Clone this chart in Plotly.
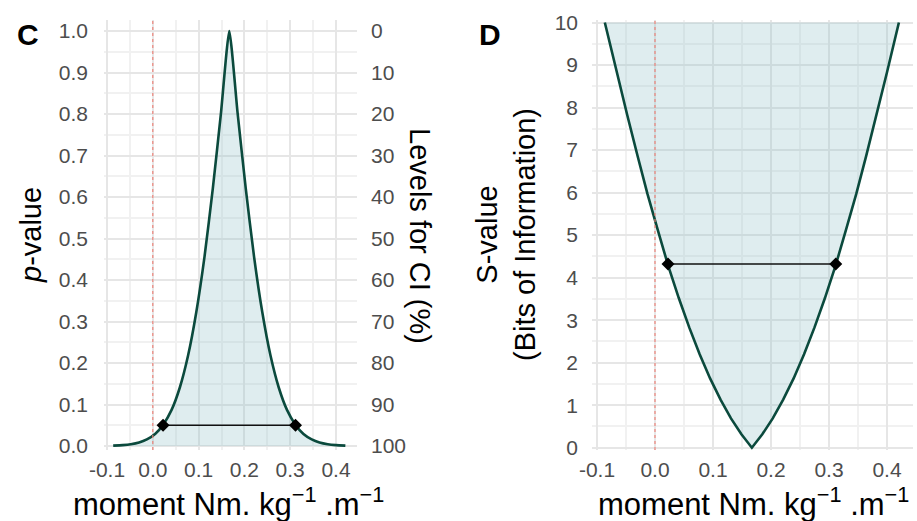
import plotly.graph_objects as go

# ---- data ----
moment = [-0.0865, -0.066, -0.048, -0.030, -0.013, 0.005, 0.023, 0.041, 0.059, 0.077,
          0.095, 0.113, 0.131, 0.149, 0.167, 0.185, 0.203, 0.221, 0.239, 0.257,
          0.275, 0.293, 0.311, 0.329, 0.347, 0.364, 0.382, 0.400, 0.4205]
p_value = [0.00098, 0.0022, 0.0044, 0.0086, 0.016, 0.029, 0.052, 0.087, 0.141, 0.218,
           0.323, 0.457, 0.620, 0.804, 1.0, 0.804, 0.620, 0.457, 0.323, 0.218,
           0.141, 0.087, 0.052, 0.029, 0.016, 0.0086, 0.0044, 0.0022, 0.00098]
s_value = [10.0, 8.83, 7.83, 6.86, 5.97, 5.11, 4.27, 3.52, 2.83, 2.20,
           1.63, 1.13, 0.69, 0.315, 0.0, 0.315, 0.69, 1.13, 1.63, 2.20,
           2.83, 3.52, 4.27, 5.11, 5.97, 6.86, 7.83, 8.83, 10.0]
ci_limits = [0.0224, 0.3116]
ci_p = [0.05, 0.05]
ci_s = [4.32, 4.32]

x_tick_vals = [-0.1, 0.0, 0.1, 0.2, 0.3, 0.4]
x_tick_labels = ["-0.1", "0.0", "0.1", "0.2", "0.3", "0.4"]
p_tick_vals = [0.0, 0.1, 0.2, 0.3, 0.4, 0.5, 0.6, 0.7, 0.8, 0.9, 1.0]
p_tick_labels = ["0.0", "0.1", "0.2", "0.3", "0.4", "0.5", "0.6", "0.7", "0.8", "0.9", "1.0"]
ci_tick_vals = [0, 10, 20, 30, 40, 50, 60, 70, 80, 90, 100]
ci_tick_labels = ["0", "10", "20", "30", "40", "50", "60", "70", "80", "90", "100"]
s_tick_vals = [0, 1, 2, 3, 4, 5, 6, 7, 8, 9, 10]
s_tick_labels = ["0", "1", "2", "3", "4", "5", "6", "7", "8", "9", "10"]

# ---- styles ----
W, H = 917, 521
LINE = "#0b4a3d"
FILL = "rgba(150,195,202,0.30)"
TICKFONT = dict(family="Liberation Sans, Arial, sans-serif", size=21, color="#4d4d4d")
TITLEFONT = dict(family="Liberation Sans, Arial, sans-serif", size=29, color="#000000")
XTITLEFONT = dict(family="Liberation Sans, Arial, sans-serif", size=31, color="#000000")
MAJ = "#e6e6e6"
MIN = "#f1f1f1"

def px(x):
    return x / W

def py(y):
    return 1 - y / H

fig = go.Figure()

# Panel C
fig.add_trace(go.Scatter(x=moment, y=p_value, mode="lines", fill="tozeroy",
                         fillcolor=FILL, line=dict(color=LINE, width=2.6, shape="spline", smoothing=0.5),
                         xaxis="x", yaxis="y", showlegend=False, hoverinfo="skip"))
fig.add_trace(go.Scatter(x=ci_limits, y=ci_p, mode="lines+markers",
                         line=dict(color="#111111", width=1.6),
                         marker=dict(symbol="diamond", size=10, color="#000000"),
                         xaxis="x", yaxis="y", showlegend=False))
# invisible trace to activate the right axis
fig.add_trace(go.Scatter(x=[ci_limits[0]], y=[95], mode="markers", opacity=0,
                         xaxis="x", yaxis="y3", showlegend=False, hoverinfo="skip"))

# Panel D
fig.add_trace(go.Scatter(x=moment, y=s_value, mode="lines", fill="toself",
                         fillcolor=FILL, line=dict(color=LINE, width=2.6),
                         xaxis="x2", yaxis="y2", showlegend=False, hoverinfo="skip"))
fig.add_trace(go.Scatter(x=ci_limits, y=ci_s, mode="lines+markers",
                         line=dict(color="#111111", width=1.6),
                         marker=dict(symbol="diamond", size=10, color="#000000"),
                         xaxis="x2", yaxis="y2", showlegend=False))

ydom = [py(450), py(20)]

common_x = dict(tickvals=x_tick_vals, ticktext=x_tick_labels, tickfont=TICKFONT,
                showgrid=True, gridcolor=MAJ, gridwidth=2, zeroline=False,
                showline=False, ticks="", automargin=False, ticklabelstandoff=5,
                minor=dict(dtick=0.05, tick0=0, showgrid=True, gridcolor=MIN, gridwidth=1.5))

fig.update_layout(
    width=W, height=H,
    margin=dict(l=0, r=0, t=0, b=0),
    paper_bgcolor="white", plot_bgcolor="white",
    xaxis=dict(domain=[px(104), px(357)], range=[-0.1066, 0.4459], anchor="y", **common_x),
    yaxis=dict(domain=ydom, range=[-0.0096, 1.0265], anchor="x", automargin=False,
               tickvals=p_tick_vals, ticktext=p_tick_labels, tickfont=TICKFONT,
               showgrid=True, gridcolor=MAJ, gridwidth=2, zeroline=False, ticks="",
               ticklabelstandoff=15,
               minor=dict(dtick=0.05, tick0=0, showgrid=True, gridcolor=MIN, gridwidth=1.5)),
    yaxis3=dict(domain=ydom, range=[100.96, -2.65], overlaying="y", side="right",
                anchor="x", automargin=False, tickvals=ci_tick_vals, ticktext=ci_tick_labels,
                tickfont=TICKFONT, showgrid=False, zeroline=False, ticks="",
                ticklabelstandoff=13),
    xaxis2=dict(domain=[px(592), px(913)], range=[-0.1086, 0.4448], anchor="y2", **common_x),
    yaxis2=dict(domain=ydom, range=[-0.054, 10.06], anchor="x2", automargin=False,
                tickvals=s_tick_vals, ticktext=s_tick_labels, tickfont=TICKFONT,
                showgrid=True, gridcolor=MAJ, gridwidth=2, zeroline=False, ticks="",
                ticklabelstandoff=13,
                minor=dict(dtick=0.5, tick0=0, showgrid=True, gridcolor=MIN, gridwidth=1.5)),
)

# red dotted reference lines at 0
for xr, yr in (("x", "y domain"), ("x2", "y2 domain")):
    fig.add_shape(type="line", xref=xr, yref=yr, x0=0, x1=0, y0=0, y1=1,
                  line=dict(color="#ee7c72", width=1.1, dash="dot"), layer="above")

ann = [
    dict(text="<b>C</b>", x=px(28), y=py(34), font=dict(family="Liberation Sans, Arial", size=30, color="#000")),
    dict(text="<b>D</b>", x=px(490), y=py(34), font=dict(family="Liberation Sans, Arial", size=30, color="#000")),
    dict(text="<i>p</i>-value", x=px(31), y=py(235), textangle=-90, font=TITLEFONT),
    dict(text="Levels for CI (%)", x=px(420), y=py(236), textangle=90, font=TITLEFONT),
    dict(text="S-value<br>(Bits of Information)", x=px(506), y=py(235), textangle=-90, font=TITLEFONT),
    dict(text="moment Nm. kg<sup>\u22121</sup> .m<sup>\u22121</sup>", x=px(228), y=py(501.5), font=XTITLEFONT),
    dict(text="moment Nm. kg<sup>\u22121</sup> .m<sup>\u22121</sup>", x=px(753), y=py(501.5), font=XTITLEFONT),
]
for a in ann:
    fig.add_annotation(xref="paper", yref="paper", showarrow=False,
                       xanchor="center", yanchor="middle", **a)

fig.write_html("out.html", config={"displayModeBar": False},
               post_script="document.body.style.margin='0px';document.body.style.overflow='hidden';")
